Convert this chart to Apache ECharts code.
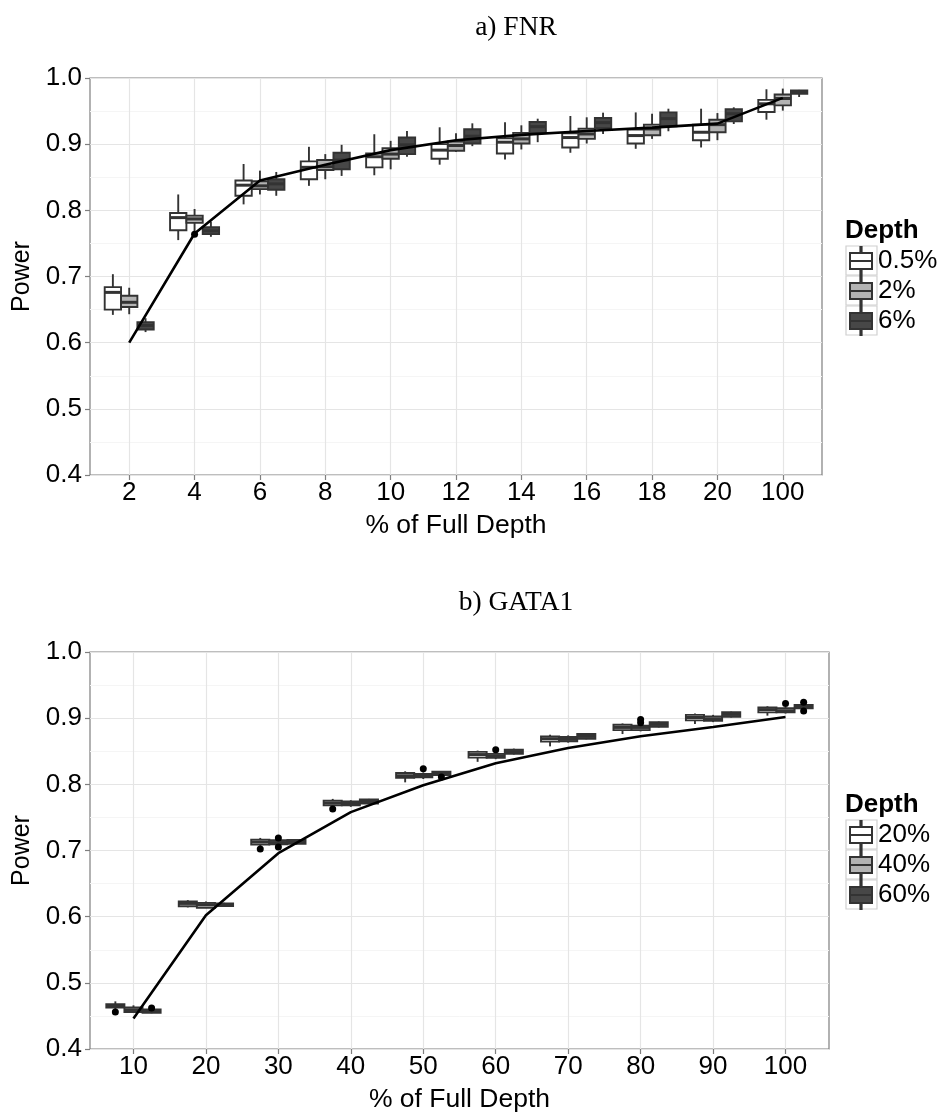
<!DOCTYPE html>
<html>
<head>
<meta charset="utf-8">
<script src="https://cdn.jsdelivr.net/npm/echarts@6/dist/echarts.min.js"></script>
<style>
html,body{margin:0;padding:0;background:#fff;}
#chart{width:946px;height:1113px;}
</style>
</head>
<body>
<div id="chart"></div>
<script>
// ---------- DATA ----------
const topCategories = ['2','4','6','8','10','12','14','16','18','20','100'];
const topDepths = ['0.5%','2%','6%'];
// [low whisker, q1, median, q3, high whisker] per category
const topBox_05 = [
  [0.642,0.650,0.676,0.684,0.7035],
  [0.755,0.770,0.789,0.796,0.824],
  [0.809,0.822,0.838,0.845,0.870],
  [0.837,0.847,0.865,0.874,0.896],
  [0.853,0.865,0.881,0.886,0.915],
  [0.869,0.878,0.891,0.900,0.9255],
  [0.877,0.886,0.903,0.909,0.933],
  [0.887,0.895,0.910,0.9165,0.9426],
  [0.893,0.901,0.913,0.922,0.948],
  [0.895,0.906,0.918,0.9295,0.9536],
  [0.937,0.9486,0.961,0.967,0.983]
];
const topBox_2 = [
  [0.643,0.654,0.661,0.671,0.683],
  [0.768,0.781,0.787,0.792,0.802],
  [0.824,0.832,0.837,0.844,0.860],
  [0.847,0.861,0.866,0.876,0.885],
  [0.862,0.878,0.885,0.894,0.905],
  [0.888,0.890,0.898,0.904,0.9165],
  [0.892,0.901,0.908,0.917,0.9285],
  [0.901,0.908,0.9154,0.9235,0.9406],
  [0.908,0.9134,0.923,0.9295,0.946],
  [0.906,0.918,0.9295,0.937,0.947],
  [0.9507,0.9587,0.969,0.975,0.984]
];
const topBox_6 = [
  [0.616,0.620,0.626,0.631,0.637],
  [0.760,0.764,0.769,0.7745,0.783],
  [0.822,0.831,0.840,0.847,0.858],
  [0.852,0.862,0.876,0.887,0.899],
  [0.881,0.885,0.899,0.910,0.920],
  [0.897,0.901,0.912,0.9225,0.9315],
  [0.903,0.917,0.9265,0.9335,0.9385],
  [0.9154,0.924,0.9325,0.9396,0.9476],
  [0.9195,0.927,0.9386,0.948,0.9536],
  [0.9305,0.9345,0.946,0.953,0.9557],
  [0.9713,0.976,0.9784,0.981,0.982]
];
// outliers: [category index, depth index, value]
const topOutliers = [[1,1,0.764]];
const topLine = [0.600,0.765,0.845,0.869,0.891,0.906,0.914,0.920,0.925,0.931,0.970];

const botCategories = ['10','20','30','40','50','60','70','80','90','100'];
const botDepths = ['20%','40%','60%'];
const botBox_20 = [
  [0.460,0.4625,0.465,0.4677,0.472],
  [0.614,0.6157,0.620,0.623,0.625],
  [0.706,0.709,0.713,0.7165,0.719],
  [0.766,0.7683,0.772,0.7754,0.778],
  [0.803,0.8097,0.813,0.8172,0.8197],
  [0.834,0.8403,0.845,0.849,0.851],
  [0.8574,0.8645,0.869,0.8725,0.875],
  [0.876,0.882,0.886,0.890,0.892],
  [0.891,0.8967,0.901,0.905,0.907],
  [0.9038,0.9088,0.913,0.9163,0.918]
];
const botBox_40 = [
  [0.4545,0.456,0.459,0.4627,0.466],
  [0.613,0.6133,0.618,0.6208,0.623],
  [0.707,0.7094,0.712,0.7155,0.717],
  [0.766,0.7683,0.771,0.7743,0.776],
  [0.808,0.8106,0.813,0.8157,0.818],
  [0.838,0.840,0.843,0.846,0.848],
  [0.863,0.865,0.868,0.8716,0.874],
  [0.880,0.882,0.886,0.8887,0.891],
  [0.894,0.8962,0.899,0.9027,0.905],
  [0.907,0.9088,0.911,0.915,0.917]
];
const botBox_60 = [
  [0.454,0.4547,0.457,0.4597,0.461],
  [0.615,0.616,0.618,0.620,0.621],
  [0.709,0.710,0.713,0.716,0.717],
  [0.770,0.771,0.774,0.777,0.778],
  [0.8125,0.814,0.817,0.819,0.820],
  [0.845,0.846,0.849,0.8524,0.854],
  [0.868,0.869,0.873,0.876,0.877],
  [0.886,0.887,0.891,0.894,0.895],
  [0.901,0.902,0.906,0.909,0.910],
  [0.914,0.915,0.918,0.920,0.921]
];
const botOutliers = [
  [0,0,0.456],[0,2,0.462],
  [2,0,0.7024],[2,1,0.719],[2,1,0.7054],
  [3,0,0.7628],
  [4,1,0.8237],[4,2,0.811],
  [5,1,0.8524],
  [7,1,0.898],[7,1,0.893],
  [9,1,0.922],[9,2,0.924],[9,2,0.911]
];
const botLine = [0.446,0.602,0.696,0.758,0.7985,0.832,0.855,0.8726,0.8867,0.9018];

// ---------- STYLE ----------
const fills = ['#ffffff','#b3b3b3','#474747'];
const edge = '#333333';
const offsets = [-0.25, 0, 0.25];
const halfW = 0.125;
const FONT = 'Liberation Sans, Arial, sans-serif';
const SERIF = 'Liberation Serif, Times New Roman, serif';

function boxRender(offset, fill) {
  return function (params, api) {
    const x = api.value(0) + offset;
    const lo = api.value(1), q1 = api.value(2), med = api.value(3), q3 = api.value(4), hi = api.value(5);
    const tl = api.coord([x - halfW, q3]);
    const br = api.coord([x + halfW, q1]);
    const pHi = api.coord([x, hi]);
    const pLo = api.coord([x, lo]);
    const pMed = api.coord([x, med]);
    const sLine = {stroke: edge, lineWidth: 1.9};
    return {
      type: 'group',
      children: [
        {type: 'line', shape: {x1: pHi[0], y1: pHi[1], x2: pHi[0], y2: tl[1]}, style: sLine},
        {type: 'line', shape: {x1: pLo[0], y1: br[1], x2: pLo[0], y2: pLo[1]}, style: sLine},
        {type: 'rect', shape: {x: tl[0], y: tl[1], width: br[0] - tl[0], height: br[1] - tl[1]},
          style: {fill: fill, stroke: edge, lineWidth: 1.9}},
        {type: 'line', shape: {x1: tl[0], y1: pMed[1], x2: br[0], y2: pMed[1]},
          style: {stroke: edge, lineWidth: 3}}
      ]
    };
  };
}

function boxData(arr) {
  return arr.map((b, i) => [i + 1, b[0], b[1], b[2], b[3], b[4]]);
}

const legendIcon = 'path://M11.4,0h1.2v6h-1.2z M1,6h22v8h-22z M1,14h22v8h-22z M11.4,22h1.2v6h-1.2z';

function makeXAxis(gridIndex, cats) {
  const vals = cats.map((c, i) => i + 1);
  return {
    type: 'value', gridIndex: gridIndex,
    min: 0.4, max: cats.length + 0.6, interval: 1,
    name: '% of Full Depth', nameLocation: 'middle', nameGap: 37,
    nameTextStyle: {fontFamily: FONT, fontSize: 26.5, color: '#000'},
    axisLine: {show: false},
    axisTick: {show: true, length: 5, lineStyle: {color: '#7f7f7f', width: 1.2}, customValues: vals},
    axisLabel: {customValues: vals, fontFamily: FONT, fontSize: 26, color: '#000', margin: 5,
      formatter: v => cats[Math.round(v) - 1]},
    splitLine: {show: true, lineStyle: {color: '#e5e5e5', width: 1.2}},
    minorSplitLine: {show: false}
  };
}
function makeYAxis(gridIndex) {
  return {
    type: 'value', gridIndex: gridIndex,
    min: 0.4, max: 1.0, interval: 0.1,
    name: 'Power', nameLocation: 'middle', nameGap: 53, nameRotate: 90,
    nameTextStyle: {fontFamily: FONT, fontSize: 25, color: '#000'},
    axisLine: {show: false},
    axisTick: {show: true, length: 5, lineStyle: {color: '#7f7f7f', width: 1.2}},
    axisLabel: {fontFamily: FONT, fontSize: 26, color: '#000', margin: 8,
      formatter: v => v.toFixed(1)},
    splitLine: {show: true, lineStyle: {color: '#e5e5e5', width: 1.2}},
    minorTick: {show: false, splitNumber: 2},
    minorSplitLine: {show: true, lineStyle: {color: '#f5f5f5', width: 1}}
  };
}

const series = [];
function addPanel(gridIdx, depths, boxes, outliers, line) {
  depths.forEach((d, k) => {
    series.push({
      type: 'custom', name: d, xAxisIndex: gridIdx, yAxisIndex: gridIdx,
      renderItem: boxRender(offsets[k], fills[k]),
      encode: {x: 0, y: [1, 2, 3, 4, 5]},
      itemStyle: {color: fills[k], borderColor: edge, borderWidth: 1.5},
      data: boxData(boxes[k]), z: 2, silent: true
    });
  });
  series.push({
    type: 'line', xAxisIndex: gridIdx, yAxisIndex: gridIdx,
    data: line.map((v, i) => [i + 1, v]),
    symbol: 'none', lineStyle: {color: '#000', width: 2.6}, z: 4, silent: true
  });
  series.push({
    type: 'scatter', xAxisIndex: gridIdx, yAxisIndex: gridIdx,
    data: outliers.map(o => [o[0] + 1 + offsets[o[1]], o[2]]),
    symbol: 'circle', symbolSize: 7, itemStyle: {color: '#000', opacity: 1}, z: 5, silent: true
  });
}
addPanel(0, topDepths, [topBox_05, topBox_2, topBox_6], topOutliers, topLine);
addPanel(1, botDepths, [botBox_20, botBox_40, botBox_60], botOutliers, botLine);

const LEG_PITCH = 30;
const legendTops = [246, 820];
function makeLegend(names, top) {
  return {
    orient: 'vertical', left: 849, top: top, padding: 0,
    data: names, icon: legendIcon, itemWidth: 24, itemHeight: 28, itemGap: 0,
    textStyle: {fontFamily: FONT, fontSize: 26, color: '#000', lineHeight: LEG_PITCH, height: LEG_PITCH},
    selectedMode: false, z: 5
  };
}
// legend key frames (decoration)
const keyFrames = [];
legendTops.forEach(t => {
  for (let i = 0; i < 3; i++) {
    keyFrames.push({type: 'rect', z: 1,
      shape: {x: 846, y: t + i * LEG_PITCH, width: 31, height: LEG_PITCH - 1},
      style: {fill: '#fff', stroke: '#d0d0d0', lineWidth: 1.2}});
  }
});

const chart = echarts.init(document.getElementById('chart'), null, {renderer: 'canvas'});
chart.setOption({
  animation: false,
  backgroundColor: '#fff',
  grid: [
    {left: 90, top: 78, width: 732, height: 397, show: true, borderColor: '#7f7f7f', borderWidth: 1.2, backgroundColor: 'transparent', outerBoundsMode: 'none', containLabel: false},
    {left: 90, top: 652, width: 739, height: 397, show: true, borderColor: '#7f7f7f', borderWidth: 1.2, backgroundColor: 'transparent', outerBoundsMode: 'none', containLabel: false}
  ],
  xAxis: [makeXAxis(0, topCategories), makeXAxis(1, botCategories)],
  yAxis: [makeYAxis(0), makeYAxis(1)],
  legend: [makeLegend(topDepths, legendTops[0]), makeLegend(botDepths, legendTops[1])],
  graphic: [
    {type: 'text', x: 516, y: 28, style: {text: 'a) FNR', font: '27.5px ' + SERIF, fill: '#000', align: 'center', verticalAlign: 'middle'}},
    {type: 'text', x: 516, y: 603, style: {text: 'b) GATA1', font: '27.5px ' + SERIF, fill: '#000', align: 'center', verticalAlign: 'middle'}},
    {type: 'text', x: 845, y: 231, style: {text: 'Depth', font: 'bold 26px ' + FONT, fill: '#000', align: 'left', verticalAlign: 'middle'}},
    {type: 'text', x: 845, y: 805, style: {text: 'Depth', font: 'bold 26px ' + FONT, fill: '#000', align: 'left', verticalAlign: 'middle'}}
  ].concat(keyFrames),
  series: series
});
</script>
</body>
</html>
